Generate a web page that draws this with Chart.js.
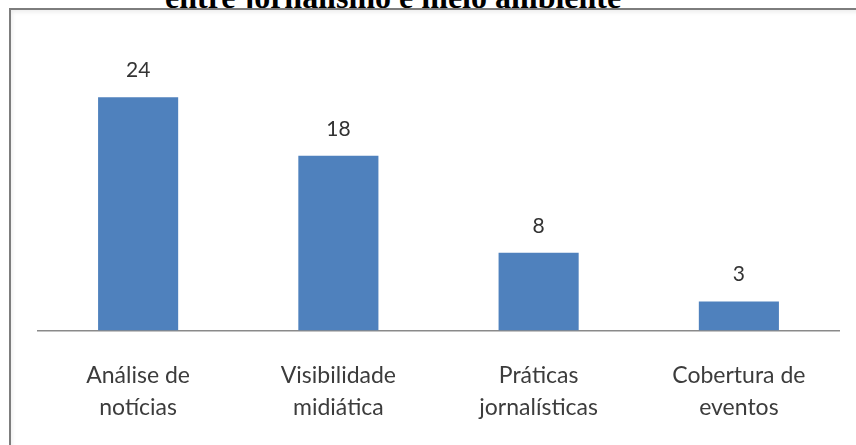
<!DOCTYPE html>
<html>
<head>
<meta charset="utf-8">
<script src="https://cdn.jsdelivr.net/npm/chart.js@4"></script>
<style>
  html, body { margin: 0; padding: 0; background: #fff; }
  body { width: 856px; height: 445px; position: relative; overflow: hidden; }
  #heading {
    position: absolute; left: 165px; top: -19px; z-index: 1;
    font: bold 32px "Liberation Serif", "Times New Roman", serif;
    line-height: 32px; color: #000; white-space: nowrap;
  }
  #frame {
    position: absolute; left: 9px; top: 8px; width: 900px; height: 500px; z-index: 2;
    background: #fff;
    border-left: 2px solid #7d7d7d; border-top: 2px solid #7d7d7d;
    box-shadow: inset 1px 2px 4px rgba(0,0,0,0.08);
  }
  #wrap { position: absolute; left: 0; top: 0; width: 856px; height: 453px; z-index: 3; }
</style>
</head>
<body>
<div id="heading">entre jornalismo e meio ambiente</div>
<div id="frame"></div>
<div id="wrap"><canvas id="chart"></canvas></div>
<script>
const categories = [
  ["Análise de", "notícias"],
  ["Visibilidade", "midiática"],
  ["Práticas", "jornalísticas"],
  ["Cobertura de", "eventos"]
];
const counts = [24, 18, 8, 3];
const yMax = 30;

const labelFont = "Lato, 'Open Sans', sans-serif";

// numbers above each bar
const valueLabels = {
  id: "valueLabels",
  afterDatasetsDraw(chart) {
    const ctx = chart.ctx;
    const meta = chart.getDatasetMeta(0);
    ctx.save();
    ctx.font = "21px " + labelFont;
    ctx.fillStyle = "#333";
    ctx.textAlign = "center";
    ctx.textBaseline = "alphabetic";
    meta.data.forEach((bar, i) => {
      ctx.fillText(String(counts[i]), bar.x, bar.y - 20);
    });
    ctx.restore();
  }
};

const ctx = document.getElementById("chart").getContext("2d");
new Chart(ctx, {
  type: "bar",
  data: {
    labels: categories,
    datasets: [
      {
        data: counts,
        backgroundColor: "#4f81bd",
        borderWidth: 0,
        barPercentage: 0.4,
        categoryPercentage: 1
      }
    ]
  },
  options: {
    responsive: true,
    maintainAspectRatio: false,
    animation: false,
    layout: {
      padding: { left: 38, right: 17, top: 39, bottom: 0 }
    },
    plugins: {
      legend: { display: false },
      tooltip: { enabled: false }
    },
    scales: {
      x: {
        grid: { display: false, drawTicks: false },
        border: { display: true, color: "#8a8a8a", width: 1.5 },
        ticks: {
          color: "#3c3c3c",
          padding: 29,
          maxRotation: 0,
          autoSkip: false,
          font: { family: labelFont, size: 23, lineHeight: 1.4 }
        }
      },
      y: {
        display: false,
        min: 0,
        max: yMax
      }
    }
  },
  plugins: [valueLabels]
});
</script>
</body>
</html>
